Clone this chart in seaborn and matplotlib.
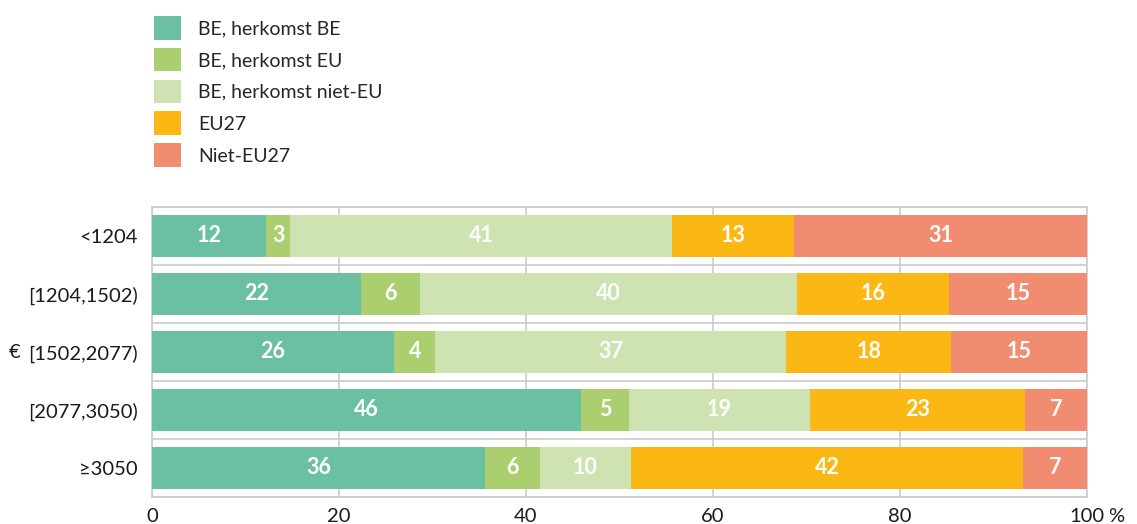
import matplotlib
matplotlib.use("Agg")
import matplotlib.pyplot as plt
from matplotlib.patches import Patch
from matplotlib.transforms import blended_transform_factory
import seaborn as sns
import numpy as np
import pandas as pd

categories = ["<1204", "[1204,1502)", "[1502,2077)", "[2077,3050)", "≥3050"]
series = ["BE, herkomst BE", "BE, herkomst EU", "BE, herkomst niet-EU", "EU27", "Niet-EU27"]
be_be = [12.2, 22.3, 25.9, 45.9, 35.6]
be_eu = [2.6, 6.4, 4.4, 5.1, 5.9]
be_niet_eu = [40.8, 40.3, 37.5, 19.4, 9.7]
eu27 = [13.1, 16.2, 17.7, 23.0, 42.0]
niet_eu27 = [31.3, 14.8, 14.5, 6.6, 6.8]
labels = [
    ["12", "3", "41", "13", "31"],
    ["22", "6", "40", "16", "15"],
    ["26", "4", "37", "18", "15"],
    ["46", "5", "19", "23", "7"],
    ["36", "6", "10", "42", "7"],
]
colors = ["#6bc0a2", "#abce6e", "#cfe3b2", "#fbb814", "#f28c71"]
xticks = [0, 20, 40, 60, 80, 100]

sns.set_theme(style="white")
plt.rcParams["font.family"] = ["Lato", "DejaVu Sans"]

vals = np.array([be_be, be_eu, be_niet_eu, eu27, niet_eu27])  # series x categories
cum = np.cumsum(vals, axis=0)

fig = plt.figure(figsize=(11.37, 5.24), dpi=100)
ax = fig.add_axes([152/1137, 1-497/524, (1087-152)/1137, (497-207)/524])

for i in range(len(series) - 1, -1, -1):
    df = pd.DataFrame({"cat": categories, "val": cum[i]})
    sns.barplot(data=df, y="cat", x="val", order=categories, color=colors[i],
                orient="h", width=0.71, saturation=1, ax=ax, zorder=3,
                linewidth=0, edgecolor="none")

for i in range(len(series)):
    for j in range(len(categories)):
        center = cum[i, j] - vals[i, j] / 2
        ax.text(center, j, labels[j][i], ha="center", va="center",
                color="white", fontsize=15.5, fontweight="bold", zorder=5)

ax.set_xlim(0, 100)
ax.set_ylim(len(categories) - 0.5, -0.5)
ax.set_xticks(xticks)
ax.set_xticklabels([str(t) for t in xticks])
ax.set_yticks(range(len(categories)))
ax.set_yticklabels(categories)
ax.set_yticks(np.arange(-0.5, len(categories), 1.0), minor=True)
ax.set_xlabel("")
ax.set_ylabel("")
grid_c = "#cccccc"
ax.grid(axis="x", which="major", color=grid_c, linewidth=1.2, zorder=0)
ax.grid(axis="y", which="minor", color=grid_c, linewidth=1.2, zorder=0)
ax.grid(axis="y", which="major", visible=False)
ax.set_axisbelow(True)
for s in ax.spines.values():
    s.set_color(grid_c)
    s.set_linewidth(1.2)
ax.tick_params(axis="both", which="both", length=0, labelsize=14.5, colors="#1a1a1a")
ax.tick_params(axis="x", pad=8)
ax.tick_params(axis="y", pad=10)

fig.text(1116/1137, 1-517/524, "%", fontsize=14.5, color="#1a1a1a", ha="center", va="center")
tr = blended_transform_factory(fig.transFigure, ax.transData)
ax.text(15/1137, 2, "€", transform=tr, fontsize=14.5, color="#1a1a1a", ha="center", va="center")

handles = [Patch(facecolor=c, edgecolor="none") for c in colors]
fig.legend(handles, series, loc="upper left", bbox_to_anchor=(146/1137, 1-8/524),
           frameon=False, fontsize=14, handlelength=1.4, handleheight=1.5,
           labelspacing=0.42, handletextpad=0.9, borderaxespad=0)

fig.savefig("out.png", dpi=100)
